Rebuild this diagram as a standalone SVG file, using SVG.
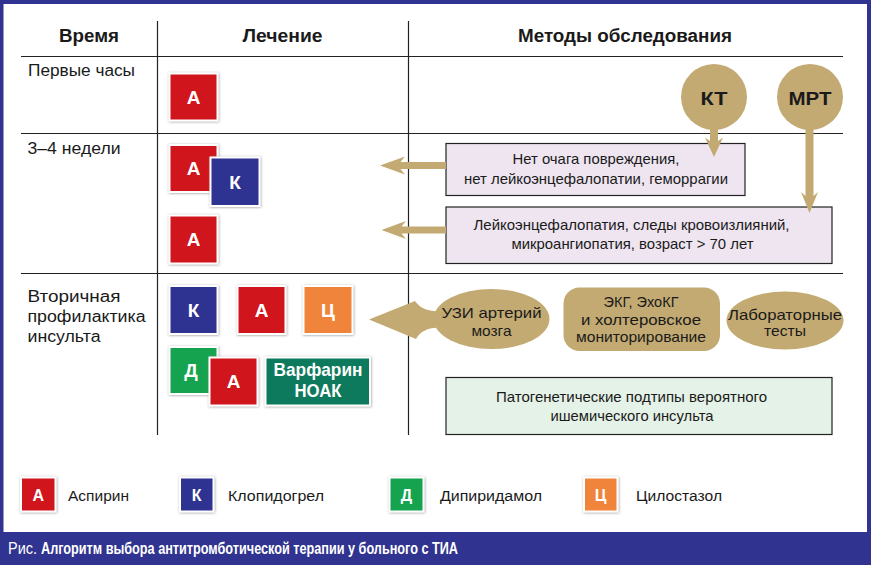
<svg xmlns="http://www.w3.org/2000/svg" width="871" height="565" viewBox="0 0 871 565">
<style>
.ln{stroke:#222;stroke-width:1.2;fill:none}
.hd{font-family:"Liberation Sans",Arial,sans-serif;font-weight:bold;font-size:18px;fill:#1a1a1a;text-anchor:middle}
.rl{font-family:"Liberation Sans",Arial,sans-serif;font-size:16px;fill:#1a1a1a}
.bx{font-family:"Liberation Sans Narrow","Liberation Sans",Arial,sans-serif;font-size:15px;fill:#1a1a1a;text-anchor:middle}
.el{font-family:"Liberation Sans",Arial,sans-serif;font-size:15px;fill:#1a1a1a;text-anchor:middle}
.dl{font-family:"Liberation Sans",Arial,sans-serif;font-weight:bold;font-size:19px;fill:#fff;text-anchor:middle}
.lg{font-family:"Liberation Sans",Arial,sans-serif;font-size:15.5px;fill:#1a1a1a}
.lgl{font-family:"Liberation Sans",Arial,sans-serif;font-weight:bold;font-size:16px;fill:#fff;text-anchor:middle}
.drug{stroke:#fff;stroke-width:2;filter:url(#sh)}
.tan{fill:#c3aa72}
.r{fill:#d0151f}.b{fill:#2e3191}.o{fill:#f0843a}.g{fill:#17a350}.t{fill:#0b7a5d}
.lav{fill:#eee5f0;stroke:#222;stroke-width:1.2}
.grn{fill:#e5f2e7;stroke:#222;stroke-width:1.2}
.cap{font-family:"Liberation Sans Narrow","Liberation Sans",Arial,sans-serif;font-size:16px;fill:#fff}
</style>
<defs>
<filter id="sh" x="-20%" y="-20%" width="140%" height="140%">
<feDropShadow dx="0.5" dy="0.5" stdDeviation="1.3" flood-color="#777" flood-opacity="0.7"/>
</filter>
</defs>
<rect x="0" y="0" width="871" height="565" fill="#fff"/>
<!-- frame -->
<rect x="0" y="0" width="871" height="4" fill="#30338f"/>
<rect x="0" y="0" width="3.5" height="565" fill="#30338f"/>
<rect x="867" y="0" width="4" height="565" fill="#30338f"/>
<rect x="0" y="532" width="871" height="33" fill="#30338f"/>
<g id="caption">
<text class="cap" x="8" y="553.5" font-size="16.5" textLength="29" lengthAdjust="spacingAndGlyphs">Рис.</text>
<text class="cap" x="41" y="553.5" font-size="16.5" font-weight="bold" textLength="417" lengthAdjust="spacingAndGlyphs">Алгоритм выбора антитромботической терапии у больного с ТИА</text>
</g>
<!-- table grid -->
<g id="grid">
<line class="ln" x1="21" y1="56.5" x2="843" y2="56.5"/>
<line class="ln" x1="21" y1="133.5" x2="843" y2="133.5"/>
<line class="ln" x1="21" y1="273.5" x2="843" y2="273.5"/>
<line class="ln" x1="157.5" y1="21" x2="157.5" y2="435"/>
<line class="ln" x1="408.5" y1="21" x2="408.5" y2="435"/>
</g>
<g id="headers">
<text class="hd" x="89" y="42" textLength="60" lengthAdjust="spacingAndGlyphs">Время</text>
<text class="hd" x="282.5" y="42" textLength="80" lengthAdjust="spacingAndGlyphs">Лечение</text>
<text class="hd" x="625" y="42" textLength="214" lengthAdjust="spacingAndGlyphs">Методы обследования</text>
</g>
<g id="row-labels">
<text class="rl" x="28" y="76" textLength="107" lengthAdjust="spacingAndGlyphs">Первые часы</text>
<text class="rl" x="27.5" y="154" textLength="93" lengthAdjust="spacingAndGlyphs">3–4 недели</text>
<text class="rl" x="27.5" y="302" textLength="93" lengthAdjust="spacingAndGlyphs">Вторичная</text>
<text class="rl" x="27.5" y="322" textLength="118" lengthAdjust="spacingAndGlyphs">профилактика</text>
<text class="rl" x="27.5" y="342" textLength="73" lengthAdjust="spacingAndGlyphs">инсульта</text>
</g>
<!-- treatment drug boxes -->
<g id="drug-r1-A"><rect class="drug r" x="169.5" y="73.5" width="48" height="47"/><text class="dl" x="193.5" y="104">А</text></g>
<g id="drug-r2-A1"><rect class="drug r" x="169.5" y="145" width="48" height="47"/><text class="dl" x="193.5" y="175">А</text></g>
<g id="drug-r2-K"><rect class="drug b" x="210.5" y="157.5" width="49" height="48.5"/><text class="dl" x="235" y="188.5">К</text></g>
<g id="drug-r2-A2"><rect class="drug r" x="169.5" y="215.5" width="48" height="48"/><text class="dl" x="193.5" y="246">А</text></g>
<g id="drug-r3-K"><rect class="drug b" x="169.5" y="286" width="48" height="48"/><text class="dl" x="193.5" y="317">К</text></g>
<g id="drug-r3-A"><rect class="drug r" x="237.5" y="286" width="48" height="48"/><text class="dl" x="261.5" y="317">А</text></g>
<g id="drug-r3-C"><rect class="drug o" x="303.5" y="286" width="49" height="48"/><text class="dl" x="328" y="317">Ц</text></g>
<g id="drug-r3-D"><rect class="drug g" x="169.5" y="347" width="48" height="47"/><text class="dl" x="191" y="377">Д</text></g>
<g id="drug-r3-A2"><rect class="drug r" x="209.5" y="357.5" width="48" height="48"/><text class="dl" x="233.5" y="388">А</text></g>
<g id="drug-r3-W"><rect class="drug t" x="265.5" y="357.5" width="104.5" height="48"/>
<text class="dl" x="318" y="376" font-size="17" textLength="89" lengthAdjust="spacingAndGlyphs">Варфарин</text>
<text class="dl" x="318" y="397" font-size="17" textLength="47" lengthAdjust="spacingAndGlyphs">НОАК</text></g>
<!-- methods -->
<g id="box-no-lesion">
<rect class="lav" x="446" y="143.5" width="299" height="52"/>
<text class="bx" x="596" y="164" textLength="167" lengthAdjust="spacingAndGlyphs">Нет очага повреждения,</text>
<text class="bx" x="596" y="184" textLength="264" lengthAdjust="spacingAndGlyphs">нет лейкоэнцефалопатии, геморрагии</text>
</g>
<g id="box-leuko">
<rect class="lav" x="446" y="207" width="386" height="56.5"/>
<text class="bx" x="631.5" y="229.5" textLength="316" lengthAdjust="spacingAndGlyphs">Лейкоэнцефалопатия, следы кровоизлияний,</text>
<text class="bx" x="632.5" y="249" textLength="242" lengthAdjust="spacingAndGlyphs">микроангиопатия, возраст &gt; 70 лет</text>
</g>
<g id="box-pathogen">
<rect class="grn" x="446" y="377.5" width="386" height="57"/>
<text class="bx" x="631.5" y="401.5" textLength="271" lengthAdjust="spacingAndGlyphs">Патогенетические подтипы вероятного</text>
<text class="bx" x="632" y="421" textLength="163" lengthAdjust="spacingAndGlyphs">ишемического инсульта</text>
</g>
<!-- connectors -->
<g id="connectors">
<path class="tan" d="M710,126 L718,126 L718,141 L723,137.5 L714,157 L705,137.5 L710,141 Z"/>
<path class="tan" d="M805.5,126 L813.5,126 L813.5,196 L818,192 L809.5,213 L801,192 L805.5,196 Z"/>
<path class="tan" d="M380,165.5 L405,156.5 L400.5,162 L446,162 L446,169 L400.5,169 L405,174.5 Z"/>
<path class="tan" d="M381.5,230 L406,221 L401.5,226.5 L446,226.5 L446,233.5 L401.5,233.5 L406,239 Z"/>
<path class="tan" d="M369,319.5 L415,301 Q422,311.5 440,311.5 L440,327.5 Q422,327.5 416,339 Z"/>
</g>
<g id="node-KT"><circle class="tan" cx="714" cy="97" r="33"/><text class="hd" x="714" y="104.5" font-size="20" textLength="27" lengthAdjust="spacingAndGlyphs">КТ</text></g>
<g id="node-MRT"><circle class="tan" cx="810" cy="97" r="33"/><text class="hd" x="810" y="104.5" font-size="20" textLength="43" lengthAdjust="spacingAndGlyphs">МРТ</text></g>
<g id="node-uzi"><ellipse class="tan" cx="491.5" cy="319" rx="58" ry="30"/>
<text class="el" x="491.5" y="318" textLength="100" lengthAdjust="spacingAndGlyphs">УЗИ артерий</text>
<text class="el" x="491.5" y="336" textLength="40" lengthAdjust="spacingAndGlyphs">мозга</text></g>
<g id="node-ekg"><rect class="tan" x="563.5" y="287.5" width="156.5" height="63.5" rx="16"/>
<text class="el" x="641" y="307" font-size="14.5" textLength="75" lengthAdjust="spacingAndGlyphs">ЭКГ, ЭхоКГ</text>
<text class="el" x="641" y="324.5" font-size="14.5" textLength="120" lengthAdjust="spacingAndGlyphs">и холтеровское</text>
<text class="el" x="641" y="342" font-size="14.5" textLength="130" lengthAdjust="spacingAndGlyphs">мониторирование</text></g>
<g id="node-lab"><ellipse class="tan" cx="785" cy="320.5" rx="58.5" ry="29"/>
<text class="el" x="785" y="320" textLength="114" lengthAdjust="spacingAndGlyphs">Лабораторные</text>
<text class="el" x="785" y="336" textLength="42" lengthAdjust="spacingAndGlyphs">тесты</text></g>
<!-- legend -->
<g id="legend-A"><rect class="drug r" x="21" y="477.5" width="34.5" height="34"/><text class="lgl" x="38.2" y="500.5">А</text><text class="lg" x="68" y="501" textLength="61" lengthAdjust="spacingAndGlyphs">Аспирин</text></g>
<g id="legend-K"><rect class="drug b" x="180" y="477.5" width="33.5" height="34"/><text class="lgl" x="196.7" y="500.5">К</text><text class="lg" x="228" y="501" textLength="96" lengthAdjust="spacingAndGlyphs">Клопидогрел</text></g>
<g id="legend-D"><rect class="drug g" x="389.5" y="477.5" width="34" height="34"/><text class="lgl" x="406.5" y="500.5">Д</text><text class="lg" x="440" y="501" textLength="102" lengthAdjust="spacingAndGlyphs">Дипиридамол</text></g>
<g id="legend-C"><rect class="drug o" x="584" y="477.5" width="33.5" height="34"/><text class="lgl" x="600.7" y="500.5">Ц</text><text class="lg" x="636" y="501" textLength="86" lengthAdjust="spacingAndGlyphs">Цилостазол</text></g>
</svg>
